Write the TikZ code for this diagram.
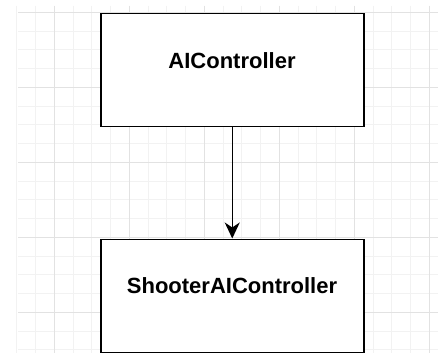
\documentclass[tikz,border=0pt]{standalone}
\usepackage{fontspec}
\setmainfont{Liberation Sans}
\usetikzlibrary{arrows.meta}
\begin{document}
\begin{tikzpicture}[x=1pt,y=-1pt,
  box/.style={draw=black,line width=1.5pt,fill=white,minimum width=263pt,minimum height=113pt,inner sep=0pt,anchor=north west},
  lbl/.style={font=\bfseries\fontsize{22}{24}\selectfont,inner sep=0pt},
  minorgrid/.style={draw={rgb,255:red,242;green,242;blue,242},line width=0.8pt},
  majorgrid/.style={draw={rgb,255:red,226;green,226;blue,226},line width=0.8pt},
  conn/.style={draw=black,line width=1.5pt,-{Stealth[length=16pt,width=15pt,inset=5pt]}}]
\useasboundingbox (0,0) rectangle (443,353);
\fill[white] (0,0) rectangle (443,353);
% minor grid
\foreach \i in {0,...,22} {
  \pgfmathsetmacro\xx{16.8+18.75*\i}
  \draw[minorgrid] (\xx,6) -- (\xx,353);
}
\foreach \j in {0,...,18} {
  \pgfmathsetmacro\yy{12.3+18.75*\j}
  \draw[minorgrid] (18,\yy) -- (438,\yy);
}
% major grid
\foreach \xx in {54.3,129.3,204.3,279.3,354.3,429.3} {
  \draw[majorgrid] (\xx,6) -- (\xx,353);
}
\foreach \yy in {12.3,87.3,162.3,237.3,312.3} {
  \draw[majorgrid] (18,\yy) -- (438,\yy);
}
\node[box] (a) at (100,12.7) {};
\node[box] (b) at (100,238.5) {};
\node[lbl] (ta) at (232,61) {AIController};
\node[lbl] (tb) at (232,286) {ShooterAIController};
\draw[conn] (a.south) -- (b.north);
\end{tikzpicture}
\end{document}
